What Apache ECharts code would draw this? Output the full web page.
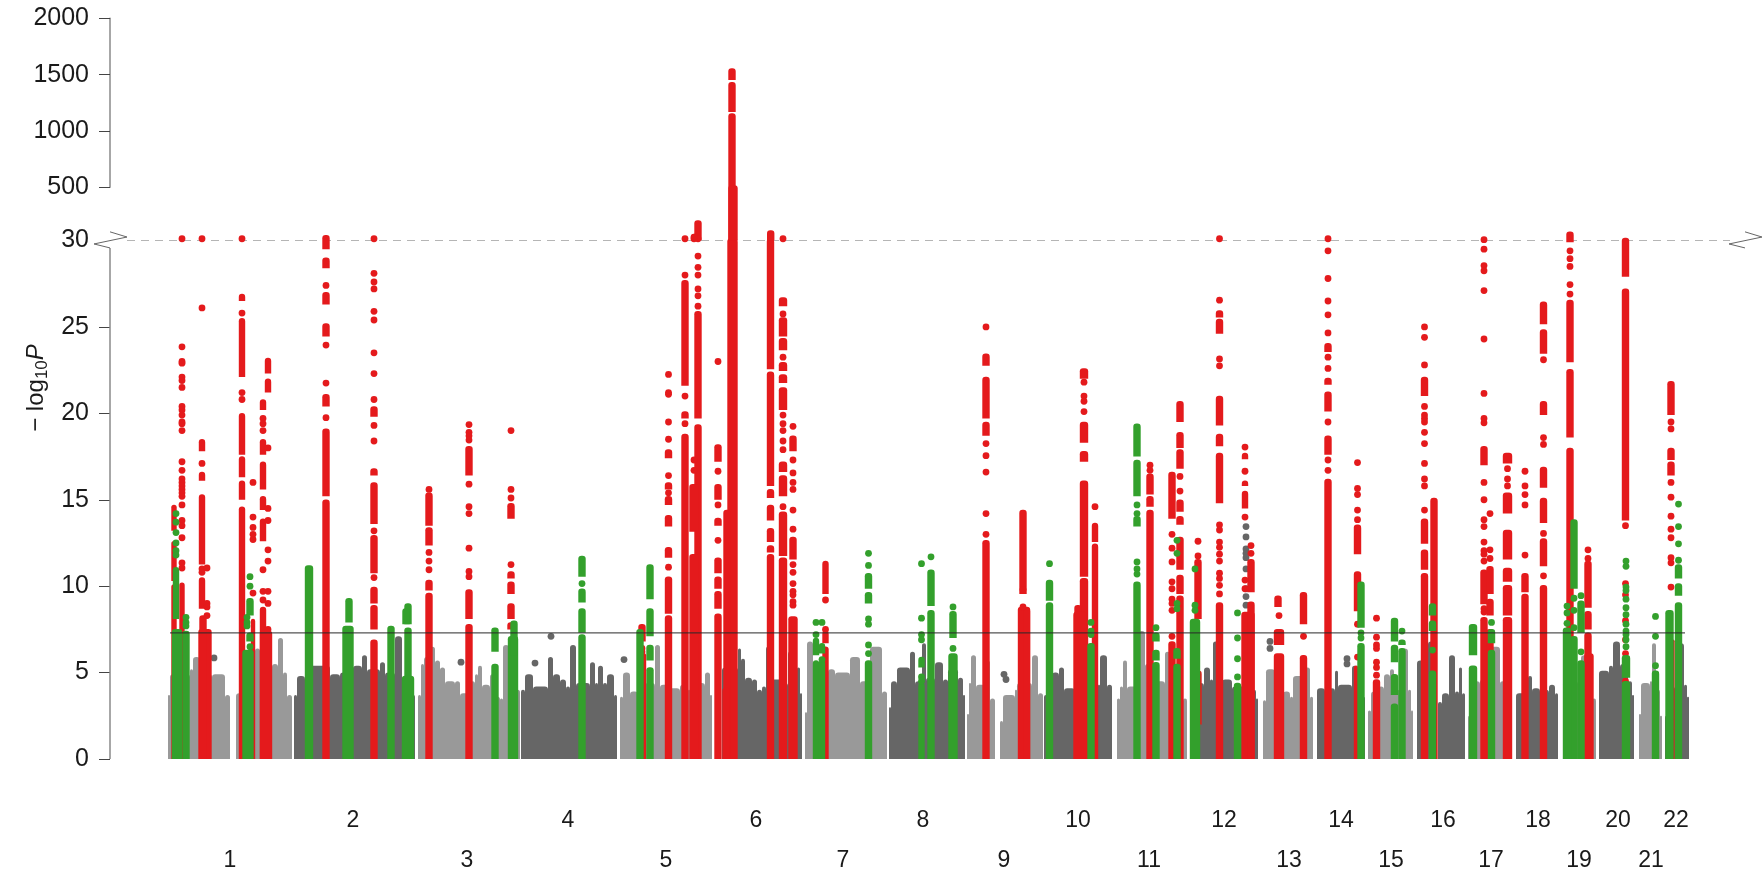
<!DOCTYPE html>
<html><head><meta charset="utf-8">
<style>html,body{margin:0;padding:0;background:#fff}#c{width:1763px;height:875px}</style>
<script src="https://cdn.jsdelivr.net/npm/echarts@6/dist/echarts.min.js"></script>
</head><body><div id="c"></div>
<script>
const evenLabels = [['2',353],['4',568],['6',756],['8',923],['10',1078],['12',1224],['14',1341],['16',1443],['18',1538],['20',1618],['22',1676]];
const oddLabels = [['1',230],['3',467],['5',666],['7',843],['9',1004],['11',1149],['13',1289],['15',1391],['17',1491],['19',1579],['21',1651]];
const yTicksLower = [0,5,10,15,20,25];
const yLabelsLower = [0,5,10,15,20,25,30];
const genomeWideLine = 7.3;

// background envelope per chromosome arm: [position, top], last entry closes the block
const bgLight = [
 [[168,3.7],[170,4.9],[190,5.2],[193,5.9],[200,4.9],[212,4.9],[225,3.7],[230,0]],
 [[236,3.8],[245,4],[255,6.4],[260,5.6],[272,5.5],[278,7],[283,5],[287,3.7],[292,0]],
 [[418,3.7],[421,5.5],[424,5.9],[430,6.5],[435,5.7],[440,5.3],[445,4.5],[455,4.5],[460,3.8],[470,4.5],[475,4.9],[478,5.4],[482,4.3],[490,4.9],[495,3.6],[500,3.5],[503,6.6],[509,5],[515,4],[520,0]],
 [[620,3.6],[623,5],[630,3.9],[638,6],[645,4.4],[655,6.6],[660,4.3],[668,4.1],[680,4.3],[688,4],[690,6.1],[697,4.4],[705,5],[710,3.7],[712,0]],
 [[805,2.7],[807,6.8],[813,4.5],[828,5.2],[835,5],[850,5.9],[860,4.5],[870,6.5],[882,3.9],[887,0]],
 [[967,2.6],[969,4.4],[971,6],[976,4.3],[985,5.7],[990,3.5],[995,0]],
 [[1000,2.2],[1003,3.7],[1015,4],[1017,4.4],[1032,6],[1038,3.8],[1043,0]],
 [[1117,3.5],[1120,4.2],[1123,5.7],[1127,4.2],[1138,7.4],[1145,5.5],[1150,4.5],[1165,6.2],[1170,5],[1178,4.8],[1183,3.5],[1187,0]],
 [[1263,3.4],[1266,5.2],[1275,5.5],[1277,5.9],[1283,3.9],[1290,3.6],[1293,4.8],[1305,5.3],[1310,3.6],[1313,0]],
 [[1368,2.8],[1371,3.9],[1378,4.2],[1384,4.9],[1390,5.2],[1394,4],[1400,6.4],[1408,4],[1411,2.8],[1413,0]],
 [[1468,2.5],[1471,4.5],[1480,4.6],[1486,6.4],[1490,6.5],[1500,4.5],[1505,0]],
 [[1563,4.5],[1578,4],[1581,6],[1587,6],[1592,3.5],[1596,0]],
 [[1639,2.6],[1641,4.4],[1650,4.5],[1652,6.7],[1656,4],[1660,2.5],[1662,0]]
];
const bgDark = [
 [[294,3.7],[297,4.8],[305,4.6],[310,5.4],[330,4.9],[340,5],[353,5.4],[362,6],[367,5.2],[380,5.6],[385,5],[395,7.1],[402,4.6],[412,3.7],[415,0]],
 [[521,4],[525,4.9],[533,4.2],[548,5.9],[553,4.9],[560,4.6],[566,4.2],[570,6.6],[576,4.4],[590,5.6],[595,4.4],[598,5.4],[603,4.4],[607,4.9],[614,3.7],[617,0]],
 [[722,5.3],[738,6.4],[741,5.8],[745,4.7],[752,4.6],[757,4],[762,4.2],[766,6.5],[770,4.6],[782,4.4],[788,6.2],[792,5.2],[797,5.3],[800,3.8],[802,0]],
 [[889,3],[891,4.5],[897,5.3],[910,6.2],[915,4.5],[922,6.7],[926,4.7],[935,5.6],[943,4.6],[948,5.2],[958,4.7],[963,3.7],[965,0]],
 [[1044,3.7],[1048,4.1],[1052,5],[1059,5.3],[1064,4.1],[1075,4],[1098,4.3],[1100,6],[1107,4.3],[1112,0]],
 [[1190,3.5],[1194,4.4],[1204,5.3],[1210,4.6],[1213,6.8],[1218,4.3],[1222,4.6],[1232,4.2],[1252,4],[1256,3.5],[1258,0]],
 [[1317,4.1],[1325,5.6],[1329,4.1],[1335,5.1],[1338,4.3],[1352,5.4],[1357,4.1],[1362,3.6],[1365,0]],
 [[1417,5.7],[1428,6.8],[1434,5],[1437,0]],
 [[1438,3.3],[1442,3.8],[1449,6],[1455,3.9],[1459,5.3],[1462,3.8],[1465,0]],
 [[1516,3.8],[1528,4.8],[1532,4.1],[1540,4],[1549,4.3],[1555,3.8],[1558,0]],
 [[1599,5.1],[1609,5.4],[1613,6.8],[1620,5.5],[1628,4.5],[1632,3.7],[1634,0]],
 [[1665,2.5],[1668,4.2],[1675,4.5],[1678,6.7],[1684,4.3],[1687,3.6],[1689,0]]
];
const grayDots = [[551,7.1],[461,5.6],[624,5.75],[535,5.55],[214,5.85],[1246,13.45],[1246,12.85],[1246,12.15],[1246,11.9],[1246,11.65],[1246,11],[1246,9.85],[1246,9.4],[1246,8.9],[1004,4.9],[1006,4.6],[1347,5.8],[1347,5.5],[1270,6.8],[1270,6.4]];

// loci: [position, span, [low,high,...solid runs], [single points]]
const redLoci = [
 [174,4,[0,10,10.3,12.5,13.2,14.6],[]],
 [182,4,[0,10.1],[30.1,23.85,23,22.9,22.1,21.9,21.5,20.4,20.2,19.9,19.5,19.4,19,17.2,16.7,16.2,16,15.8,15.6,15.4,15.2,14.7,13.8,13.5,12.8,11.35,11.05]],
 [202,5,[11.25,15.2,8.7,10.4,17.8,18.4,16.1,16.5],[30.1,26.1,17.1,11,10.8]],
 [205,12,[0,7.4],[]],[203,6,[0,8.2],[]],
 [207,1,[],[11.05,9,8.8,8.3]],
 [242,5,[0,14.5,15,16,16.3,17.4,17.6,19.9,22.1,25.4,26.5,26.8],[30.1,25.8,21.2,20.8]],
 [253,3,[0,8],[16,14,13.4,13,12.7,9.6]],
 [263,5,[20.2,20.7,17.6,18.4,15.6,17.1,14.4,15.1,12.6,13.8,0,8.7],[19.7,19.4,19,10.95,9.7,9.2]],
 [266,11,[0,7.3],[]],
 [268,5,[21.2,21.9,22.3,23.1],[18,14.5,13.8,12.1,11.45,9.7,9,7.5]],
 [326,6,[0,14.9,15.2,19,20.4,21,24.45,25.1,26.3,26.9,28.4,28.9,29.5,30.2],[27.4,23.95,21.75,19.75]],
 [374,6,[0,6.8,7.5,8.8,9,9.85,10.75,12.85,13.6,15.9,16.4,16.7,19.8,20.3],[30.1,28.1,27.6,27.2,25.9,25.4,23.5,22.3,20.8,19.3,18.4,13.2,10.5]],
 [429,6,[0,9.5,9.75,10.25,12.35,13.3,13.5,15.3],[15.6,11.95,11.45,10.95]],
 [469,6,[0,7.7,8.1,9.7,16.4,18],[19.35,18.9,18.7,18.45,15.9,14.6,14.2,12.2,10.85,10.55]],
 [511,6,[8.1,8.9,9.55,10.15,10.45,10.75,13.9,14.7,7.5,7.8],[19,15.6,15.1,11.25]],
 [644,3,[0,6],[]],[642,6,[6.8,7.7],[6.4,6.2]],
 [668.5,6,[0,8.2,8.4,10.45,11.65,12.15,13.45,14,14.7,15.1,15.6,15.9,17.4,17.8],[22.25,21.2,21.1,19.5,18.5,16.4,15.4,11.1]],
 [685,6,[0,18.7,19.7,20,21.6,27.6],[30.1,28,21,19.4]],
 [698,6,[0,19.25,19.7,25.8],[29.1,28.45,28,27.2,26.8,26.2,30.1]],
 [694,8,[0,11.75,13.15,15.8],[17.3,16.7,30.1,30.2]],
 [718,6,[0,8.3,8.7,9.6,9.85,10.45,10.75,11.55,13.5,13.85,15,15.8,17.2,18.1],[23,16.65,14.7,12.65]],
 [732.5,9,[0,30],[]],[727,6,[0,14.3],[]],[726,6,[0,4],[]],
 [770.5,6,[0,11.75,11.95,12.25,12.55,13.25,13.8,14.6,15.1,15.5,15.8,22.3,22.55,30],[]],
 [783,7,[0,11.55,11.75,14.2,15.2,16.3,16.6,17.1,20.2,21.4,21.75,22.15,22.45,22.85,23.65,24.25,24.45,25.45,26.2,26.6],[30.1,25.75,23.25,19.9,19.4,19,18.4,17.9,14.6]],
 [793,8,[0,8.15],[]],
 [793,6,[11.55,12.75,17.8,18.6],[19.25,17.3,16.55,16,15.6,14.4,13.3,11.25,10.8,10.15,9.7,9.5,9.1,8.9]],
 [825.5,5,[0,6.4,6.7,7.3,9.55,11.35],[9.2,7.5]],
 [986,6,[0,12.55,18.7,19.4,19.7,22,22.75,23.35],[25,18.25,17.55,16.6,14.2,13]],
 [1023,6,[9.55,14.3],[9.8,8.8]],[1024,11,[0,8.7],[]],[1027,5,[0,8.6],[]],
 [1084,7,[0,10.35,10.55,16,18.3,19.4,17.2,17.7,22,22.5],[21.8,21,20.7,20.1]],
 [1078,6,[0,8.8],[]],[1080,12,[0,8.4],[]],
 [1095,5,[0,12.35,12.55,13.55],[14.6]],
 [1150,6,[0,14.3,14.6,15.1,15.3,16.4],[17,16.7]],
 [1172,6,[0,6.7,13.9,16.5],[13,12.2,11.4,10.25,9.85,9.25,9,8.6,7.1]],
 [1180,6,[0,9.35,9.55,10.55,10.95,12.75,13.55,13.95,14.3,14.9,16.8,17.8,18,18.8,19.5,20.6],[16.35,15.5]],
 [1198,6,[2,5,8.1,11.45],[12.6,11.75]],
 [1219.5,6,[0,8.95,14.8,17.6,18.1,18.7,19.3,20.9,24.6,25.35,25.55,25.85],[30.1,26.55,23.15,22.75,13.55,13.25,12.55,12.25,11.85,11.45,10.75,10.45,10.05,9.55]],
 [1248,12,[0,8.4],[]],
 [1245,5,[14.5,15.4,15.8,16,17.35,17.6],[18.05,16.65,14,10.35,9.85]],
 [1251,6,[0,9,9.65,11.45],[12.35,11.9]],
 [1279,9,[0,6,6.6,7.4],[8.3]],[1278,6,[8.8,9.35],[]],
 [1303.5,6,[0,5.9,7.8,9.55],[7.1]],
 [1328,6,[0,16.1,17.6,18.6,20.1,21.15,21.65,21.95,23.55,23.95],[30.1,29.4,27.8,26.5,25.7,24.65,23.25,22.6,19.5,17.3,16.7]],
 [1356,3,[0,5.3],[]],
 [1357.5,6,[8.55,10.75,11.85,13.45],[17.15,15.65,15.3,14.4,13.85,7.8,5.9]],
 [1376.5,6,[0,4.5],[8.15,7.05,6.6,6.4,5.6,5.3,4.85]],
 [1424.5,6,[0,10.65,10.95,12,12.45,13.8,21,22],[25,24.4,22.8,20.4,19.9,19.7,19.5,18.9,18.25,17.1,16.2,15.8,14.4]],
 [1434,6,[0,15],[]],
 [1484,6,[0,8.1,8.95,10.85,17,18],[30.05,29.5,28.55,28.25,27.1,24.3,21.15,19.7,19.45,16,15,13.85,13.45,12.55,12.05,11.85,11.45,8.7,8.5]],
 [1490,6,[0,7.4,8.3,9.15,9.55,11.05],[14.2,12.1,11.6]],
 [1507.5,8,[0,8.1,8.3,9.95,10.25,10.95,11.55,13.15,14.2,15.3,17.1,17.6],[16.8,16.2,15.8]],
 [1525,6,[0,9.45,9.65,10.65],[16.65,15.8,15.3,14.7,11.8]],
 [1543.5,6,[0,9.95,11.15,12.65,13.65,15,15.7,16.8,19.9,20.6,23.45,24.75,25.15,26.35],[23.1,18.6,18.2,13.05,10.6]],
 [1570,6,[0,17.9,18.6,22.45,22.95,26.45,29.9,30.4],[29.4,28.95,28.5,27.45,26.9]],
 [1588,6,[0,7.2,7.5,8.45,8.75,11.35],[12.1,11.6]],[1589,8,[0,6],[]],
 [1625.5,6,[13.8,27.1,27.9,30.05],[13.5,10.15,9.5,8,6.9,6.1,4.5,4]],
 [1671,6,[19.9,21.75,16.4,17.1,17.3,17.9],[19.5,19.1,16,15.15,14.05,13.3,12.8,11.65,11.35,9.95]],
 [1673,2,[0,6.8],[]]
];
const greenLoci = [
 [176,5,[8.1,11],[14.2,13.7,13.1,12.5,12.05,11.8]],
 [177,9,[0,7.4],[]],
 [186,6,[0,7.3],[8.2,7.9,7.7]],
 [248,10,[0,6.2],[]],
 [250,6,[8.3,9.2,6.8,7.2],[10.55,10,6.5]],
 [247,5,[],[8.2,7.9,7.7]],
 [309,7,[0,11.1],[]],
 [349,6,[7.9,9.2],[]],[348,10,[0,7.6],[]],
 [391,6,[0,7.6],[]],
 [408,6,[0,7.5,7.8,8.9],[]],[406,6,[7.8,8.6],[]],[408,11,[0,4.7],[]],
 [495,6,[0,5.4,6.2,7.5],[]],
 [513,9,[0,7],[]],[514,6,[6,7.9],[]],
 [582,6,[0,7.1,7.3,8.6,9.05,9.75,10.55,11.65],[10.15]],
 [640,6,[0,7.4],[]],
 [650,6,[0,5.2,5.7,6.5,7.1,8.6,9.25,11.15],[]],
 [816,5,[0,5.6,6,6.9],[7.9,7.2]],
 [822,5,[0,5.6,6.1,6.6],[7.9,5.75]],
 [868.5,6,[0,5.6,9.85,10.65,9,9.55],[11.9,11.2,8.1,7.8,6.6,6.1]],
 [921.5,5,[0,4.3,5.3,5.8],[11.3,8.15,7.2,6.9,4.75,4.5]],
 [931,6,[0,8.5,8.85,10.85],[11.7]],
 [953,8,[0,6],[]],
 [953,6,[7,8.45],[8.8,6.4]],
 [1049.5,6,[0,8.95,9.15,10.25],[11.3]],
 [1091,6,[0,6.6],[7.9,7.4,7.2]],
 [1137,6,[0,10.15,13.45,13.95,15.2,17.2,17.5,19.3],[14.7,14.2,11.4,11,10.7]],
 [1156,6,[0,5.5,5.7,6.2,6.8,7.2],[7.6]],
 [1177,6,[0,5.4,5.8,6.3],[12.65,11.9,9,8.7]],
 [1195,9,[0,8],[11,8.9,8.6]],
 [1237.5,6,[0,4.3],[8.45,7,5.8,4.75]],
 [1361,6,[0,6.6,7.6,10.15],[7.3,7]],
 [1394.5,6,[0,3.1,3.7,4.8,5.6,6.5,6.8,8.05],[]],
 [1402,6,[0,6.3,6.6,6.8],[7.4]],
 [1432.5,6,[0,5,8.3,8.9,7.4,7.9],[6.3]],
 [1473,7,[0,5.3,6,7.7],[]],
 [1491.5,6,[0,6.2,6.7,7.4],[7.9]],
 [1574,6,[0,7,9.85,13.75],[9.3,8.6,7.6]],
 [1567,7,[0,7.5],[8.85,8.45,7.85]],
 [1581,6,[0,5.6,7.3,9.05],[9.45,6.2]],
 [1626,7,[0,4.4,4.7,5.9],[11.45,11.15,9.95,9.75,9.25,8.75,8.35,7.8,7.4,7.2,6.9,6.5]],
 [1655.5,6,[0,5],[8.25,7.1,5.4]],
 [1669.5,7,[0,8.5],[]],
 [1678.5,6,[0,8.95,9.45,10.05,10.45,11.15],[14.75,13.45,12.45,11.5]]
];
// values above the axis break, on the upper scale
const redUpper = [
 [732,6,[30,1140,1168,1417,1452,1540]],
 [733,8,[30,500]],
 [770.7,6,[30,100]],
 [698,6,[30,190]],
 [695,6,[30,70]]
];
const breakLeft = [[110,30.5],[127,30.2],[94,29.8],[110,29.57]];
const breakRight = [[1745,30.5],[1762,30.2],[1729,29.8],[1745,29.57]];
const lowerAxisSpan = [[110,0],[110,29.57]];
const cutLine = [[127,30],[1730,30]];
const thresholdSpan = [[170,genomeWideLine],[1685,genomeWideLine]];

const RED='#e41a1c',GREEN='#33a02c',DARK='#666666',LIGHT='#999999',FONT='"Liberation Sans",Arial,sans-serif';
const GROW=1.4;
function runs(loci){const o=[];loci.forEach(l=>{for(let i=0;i<l[2].length;i+=2)o.push([l[0]-l[1]/2-GROW/2,l[0]+l[1]/2+GROW/2,l[2][i],l[2][i+1]]);});return o;}
function dots(loci){const o=[];loci.forEach(l=>(l[3]||[]).forEach(v=>o.push([l[0],v])));return o;}
function columns(blocks){const o=[];blocks.forEach(b=>{for(let i=0;i<b.length-1;i++)o.push([b[i][0],b[i+1][0],0,b[i][1]]);});return o;}
function bars(name,data,color,xi,yi,round,z){return {type:'custom',name,xAxisIndex:xi,yAxisIndex:yi,data,z,silent:true,clip:false,encode:{x:[0,1],y:[2,3]},
 renderItem(p,api){const a=api.coord([api.value(0),api.value(3)]),b=api.coord([api.value(1),api.value(2)]);
  const w=b[0]-a[0],h=b[1]-a[1],r=Math.min(w/2,3.2);
  return {type:'rect',shape:{x:a[0],y:a[1]-(round?2:0),width:w,height:h+(round?2:0),r:round?[r,r,0,0]:[r,r,0,0]},style:{fill:color}};}};}
function pts(name,data,color,z){return {type:'scatter',name,xAxisIndex:1,yAxisIndex:1,data,symbolSize:6.8,itemStyle:{color,opacity:1},clip:false,z,silent:true};}
function line(name,data,color,width,type,z){return {type:'line',name,xAxisIndex:1,yAxisIndex:1,data,showSymbol:false,symbol:'none',clip:false,z,silent:true,lineStyle:{color,width,type}};}

const chart=echarts.init(document.getElementById('c'),null,{renderer:'canvas'});
const LEFT=60,SHIFT=110-LEFT;
const xBase={type:'value',min:LEFT,max:1763,splitLine:{show:false},axisLine:{show:false},axisTick:{show:false}};
const axisFont={fontFamily:FONT,fontSize:25,color:'#1a1a1a',margin:21,padding:[4,0,0,0],formatter:v=>String(v)};
chart.setOption({
 animation:false,backgroundColor:'#fff',
 grid:[{left:LEFT,right:0,top:18.3,height:169},{left:LEFT,right:0,top:240.5,height:518.5}],
 xAxis:[
  {...xBase,gridIndex:0,axisLabel:{show:false}},
  {...xBase,gridIndex:1,position:'bottom',axisLabel:{show:true,customValues:evenLabels.map(d=>d[1]),formatter:v=>(evenLabels.find(d=>d[1]===v)||[''])[0],fontFamily:FONT,fontSize:23,color:'#1a1a1a',margin:50,hideOverlap:false}},
  {...xBase,gridIndex:1,position:'bottom',axisLabel:{show:true,customValues:oddLabels.map(d=>d[1]),formatter:v=>(oddLabels.find(d=>d[1]===v)||[''])[0],fontFamily:FONT,fontSize:23,color:'#1a1a1a',margin:90,hideOverlap:false}}
 ],
 yAxis:[
  {type:'value',gridIndex:0,offset:-SHIFT,min:500,max:2000,interval:500,splitLine:{show:false},axisLine:{show:true,lineStyle:{color:'#8a8a8a',width:1.5}},axisTick:{show:true,length:11,lineStyle:{color:'#444',width:1}},axisLabel:axisFont},
  {type:'value',gridIndex:1,offset:-SHIFT,min:0,max:30,interval:5,splitLine:{show:false},axisLine:{show:false},axisTick:{show:true,length:11,customValues:yTicksLower,lineStyle:{color:'#444',width:1}},axisLabel:{...axisFont,customValues:yLabelsLower}}
 ],
 series:[
  bars('light',columns(bgLight),LIGHT,1,1,false,1),
  bars('dark',columns(bgDark),DARK,1,1,false,1),
  pts('gray',grayDots,DARK,2),
  bars('red',runs(redLoci),RED,1,1,true,3),
  bars('redUp',runs(redUpper),RED,0,0,true,3),
  pts('redDots',dots(redLoci),RED,3),
  bars('green',runs(greenLoci),GREEN,1,1,true,4),
  pts('greenDots',dots(greenLoci),GREEN,4),
  line('threshold',thresholdSpan,'rgba(40,40,40,0.8)',1.2,'solid',6),
  line('cut',cutLine,'#b5b5b5',1,[8,6],2),
  line('axis',lowerAxisSpan,'#8a8a8a',1.5,'solid',6),
  line('breakL',breakLeft,'#666',1,'solid',6),
  line('breakR',breakRight,'#666',1,'solid',6)
 ],
 graphic:[{type:'text',x:36,y:388,rotation:Math.PI/2,silent:true,style:{
  text:'{n|− log}{s|10}{i|P}',align:'center',verticalAlign:'middle',
  rich:{n:{fontFamily:FONT,fontSize:24,lineHeight:30,fill:'#1a1a1a'},s:{fontFamily:FONT,fontSize:17,lineHeight:30,verticalAlign:'bottom',fill:'#1a1a1a'},i:{fontFamily:FONT,fontSize:24,fontStyle:'italic',lineHeight:30,fill:'#1a1a1a'}}}}]
});
</script></body></html>
